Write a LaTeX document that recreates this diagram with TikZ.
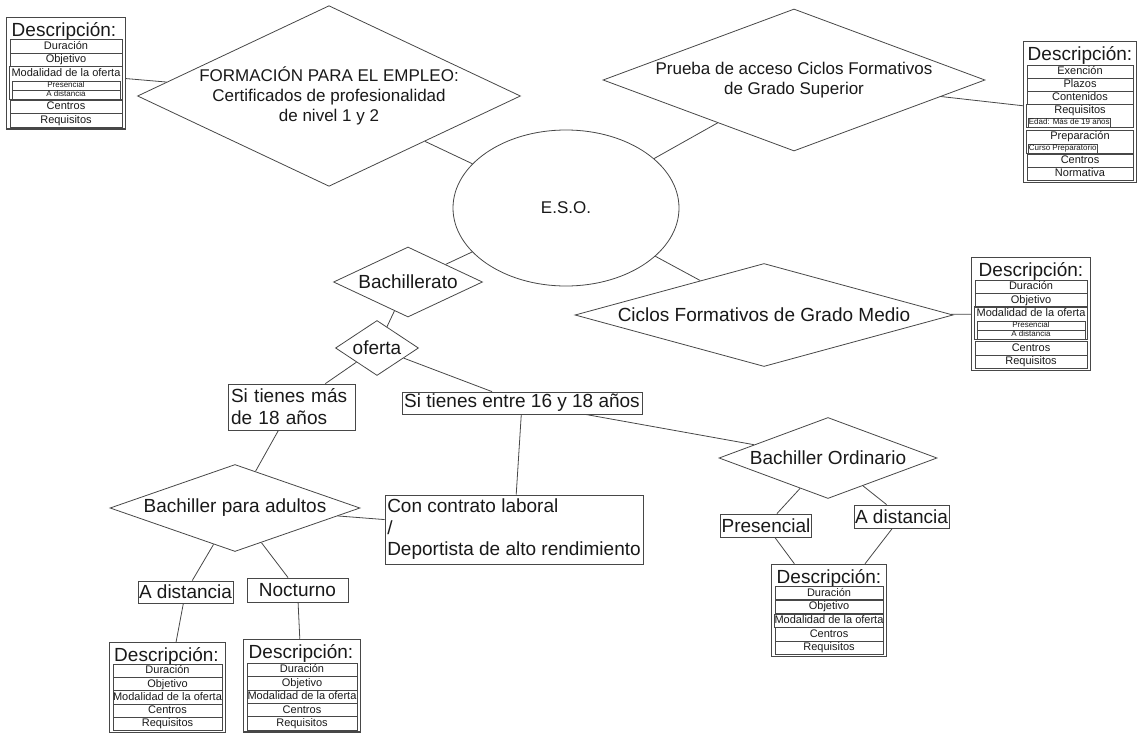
\documentclass[tikz,border=0pt]{standalone}
\usepackage{fontspec}
\setmainfont{Liberation Sans}
\usetikzlibrary{shapes.geometric,fit}

\definecolor{linea}{gray}{0.28}
\definecolor{texto}{gray}{0.1}

\tikzset{
  rombo/.style={diamond,draw=linea,inner sep=0pt,text=texto,align=center,
    font=\fontsize{19}{22}\selectfont},
  caja/.style={rectangle,draw=linea,inner xsep=1pt,inner ysep=0pt,text=texto,
    font=\fontsize{19}{22}\selectfont},
  desctitulo/.style={inner sep=0pt,text=texto,text height=17pt,text depth=4pt,
    font=\fontsize{19}{20}\selectfont},
  descfila/.style={rectangle,draw=linea,inner sep=0pt,minimum height=13.3pt,
    text height=8.2pt,text depth=2.4pt,text=texto,font=\fontsize{11}{12}\selectfont},
  descsub/.style={rectangle,draw=linea,inner sep=0.5pt,minimum height=9pt,
    text height=6pt,text depth=1.7pt,text=texto,font=\fontsize{8}{9}\selectfont},
  descgrupo/.style={rectangle,draw=linea,inner sep=0pt},
  descmarco/.style={rectangle,draw=linea,line width=1.3pt,inner xsep=3pt,inner ysep=1.5pt}
}

\begin{document}
\begin{tikzpicture}[x=1pt,y=-1pt,line width=0.8pt,color=linea]
  \useasboundingbox (0,0) rectangle (1140,733);

  % centro
  \node[ellipse,draw=linea,minimum width=226pt,minimum height=156pt,inner sep=0pt,
    text=texto,font=\fontsize{17}{20}\selectfont] (eso) at (566,208) {E.S.O.};

  \node[rombo,aspect=2.12,minimum width=382pt,minimum height=180pt,
    font=\fontsize{17}{20}\selectfont] (formacion) at (329,96)
    {FORMACIÓN PARA EL EMPLEO:\\Certificados de profesionalidad\\de nivel 1 y 2};
  \node[rombo,aspect=2.69,minimum width=382pt,minimum height=142pt,
    font=\fontsize{17}{20}\selectfont] (prueba) at (794,80)
    {Prueba de acceso Ciclos Formativos\\de Grado Superior};
  \node[rombo,aspect=3.67,minimum width=378pt,minimum height=103pt] (ciclos) at (764,315)
    {Ciclos Formativos de Grado Medio};
  \node[rombo,aspect=2.13,minimum width=149pt,minimum height=70pt] (bach) at (408,282) {Bachillerato};
  \node[rombo,aspect=1.51,minimum width=83pt,minimum height=55pt] (oferta) at (377,348) {oferta};

  \node[caja,align=left,text width=121pt,inner xsep=3pt,minimum height=46pt] (mas18) at (291.5,407)
    {Si tienes más\\de 18 años};
  \node[caja,minimum width=240pt,minimum height=22pt] (entre) at (522,403) {Si tienes entre 16 y 18 años};
  \node[caja,align=left,minimum width=258pt,minimum height=69pt,
    font=\fontsize{19}{21.5}\selectfont] (contrato) at (514,529.5)
    {Con contrato laboral\\/\\Deportista de alto rendimiento};

  \node[rombo,aspect=2.87,minimum width=250pt,minimum height=87pt] (adultos) at (235,508) {Bachiller para adultos};
  \node[rombo,aspect=2.69,minimum width=218pt,minimum height=81pt] (ordinario) at (828,458) {Bachiller Ordinario};

  \node[caja,minimum width=90pt,minimum height=23pt] (pres) at (766,525.5) {Presencial};
  \node[caja,minimum width=93pt,minimum height=23pt] (adist2) at (901.5,516.5) {A distancia};
  \node[caja,minimum width=95pt,minimum height=22pt] (adist1) at (185.5,592) {A distancia};
  \node[caja,minimum width=101pt,minimum height=24pt] (noct) at (297.5,590) {Nocturno};

  % descripcion 1
  \node[desctitulo] (d1t) at (64,30.2) {Descripción:};
  \foreach \txt/\y [count=\i] in {Duración/46.5,Objetivo/60}
    \node[descfila,minimum width=112pt] (d1f\i) at (66,\y) {\txt};
  \node[descfila,draw=none,minimum width=112pt] (d1f3) at (66,73.5) {Modalidad de la oferta};
  \node[descsub,minimum width=108pt] (d1s1) at (66,85.5) {Presencial};
  \node[descsub,minimum width=108pt] (d1s2) at (66,94.5) {A distancia};
  \node[descgrupo,fit=(d1f3)(d1s2)] (d1g) {};
  \node[descfila,minimum width=112pt] (d1f4) at (66,107) {Centros};
  \node[descfila,minimum width=112pt] (d1f5) at (66,120.5) {Requisitos};
  \node[descmarco,fit=(d1t)(d1f1)(d1f5)] (d1) {};

  % descripcion 2
  \node[desctitulo] (d2t) at (1080,54.2) {Descripción:};
  \foreach \txt [count=\i] in {Exención,Plazos,Contenidos}
    \node[descfila,minimum width=106pt] (d2f\i) at (1080,59+13*\i) {\txt};
  \node[descfila,draw=none,minimum width=106pt] (d2f4) at (1080,111) {Requisitos};
  \node[descsub,anchor=west] (d2s1) at (1028,122.5) {Edad: Más de 19 años};
  \node[descgrupo,fit=(d2f4)(d2s1)] (d2g1) {};
  \node[descfila,draw=none,minimum width=106pt] (d2f5) at (1080,137) {Preparación};
  \node[descsub,anchor=west] (d2s2) at (1028,148.5) {Curso Preparatorio};
  \node[descgrupo,fit=(d2f5)(d2s2)] (d2g2) {};
  \node[descfila,minimum width=106pt] (d2f6) at (1080,161) {Centros};
  \node[descfila,minimum width=106pt] (d2f7) at (1080,174) {Normativa};
  \node[descmarco,fit=(d2t)(d2f1)(d2f7)] (d2) {};

  % descripcion 3
  \node[desctitulo] (d3t) at (1031,270.2) {Descripción:};
  \foreach \txt [count=\i] in {Duración,Objetivo}
    \node[descfila,minimum width=112pt] (d3f\i) at (1031,273.7+13.3*\i) {\txt};
  \node[descfila,draw=none,minimum width=112pt] (d3f3) at (1031,313.6) {Modalidad de la oferta};
  \node[descsub,minimum width=108pt] (d3s1) at (1031,325.5) {Presencial};
  \node[descsub,minimum width=108pt] (d3s2) at (1031,334.5) {A distancia};
  \node[descgrupo,fit=(d3f3)(d3s2)] (d3g) {};
  \node[descfila,minimum width=112pt] (d3f4) at (1031,348.5) {Centros};
  \node[descfila,minimum width=112pt] (d3f5) at (1031,361.8) {Requisitos};
  \node[descmarco,fit=(d3t)(d3f1)(d3f5)] (d3) {};

  % descripcion 4, 5 y 6
  \node[desctitulo] (d4t) at (829,576.8) {Descripción:};
  \foreach \txt [count=\i] in {Duración,Objetivo,Modalidad de la oferta,Centros,Requisitos}
    \node[descfila,minimum width=108pt] (d4f\i) at (829,579.5+13.7*\i) {\txt};
  \node[descmarco,fit=(d4t)(d4f1)(d4f5)] (d4) {};

  \node[desctitulo] (d5t) at (166.5,655.2) {Descripción:};
  \foreach \txt [count=\i] in {Duración,Objetivo,Modalidad de la oferta,Centros,Requisitos}
    \node[descfila,minimum width=109pt] (d5f\i) at (167.5,657.5+13.3*\i) {\txt};
  \node[descmarco,fit=(d5t)(d5f1)(d5f5)] (d5) {};

  \node[desctitulo] (d6t) at (301,651.8) {Descripción:};
  \foreach \txt [count=\i] in {Duración,Objetivo,Modalidad de la oferta,Centros,Requisitos}
    \node[descfila,minimum width=110pt] (d6f\i) at (302,656.5+13.4*\i) {\txt};
  \node[descmarco,fit=(d6t)(d6f1)(d6f5)] (d6) {};

  \foreach \from/\to in {formacion/eso,formacion/d1,prueba/eso,prueba/d2,eso/ciclos,ciclos/d3,
      eso/bach,bach/oferta,oferta/mas18,oferta/entre,mas18/adultos,entre/contrato,entre/ordinario,
      adultos/contrato,adultos/adist1,adultos/noct,adist1/d5,noct/d6,
      ordinario/pres,ordinario/adist2,pres/d4,adist2/d4}
    \draw (\from) -- (\to);

\end{tikzpicture}
\end{document}
